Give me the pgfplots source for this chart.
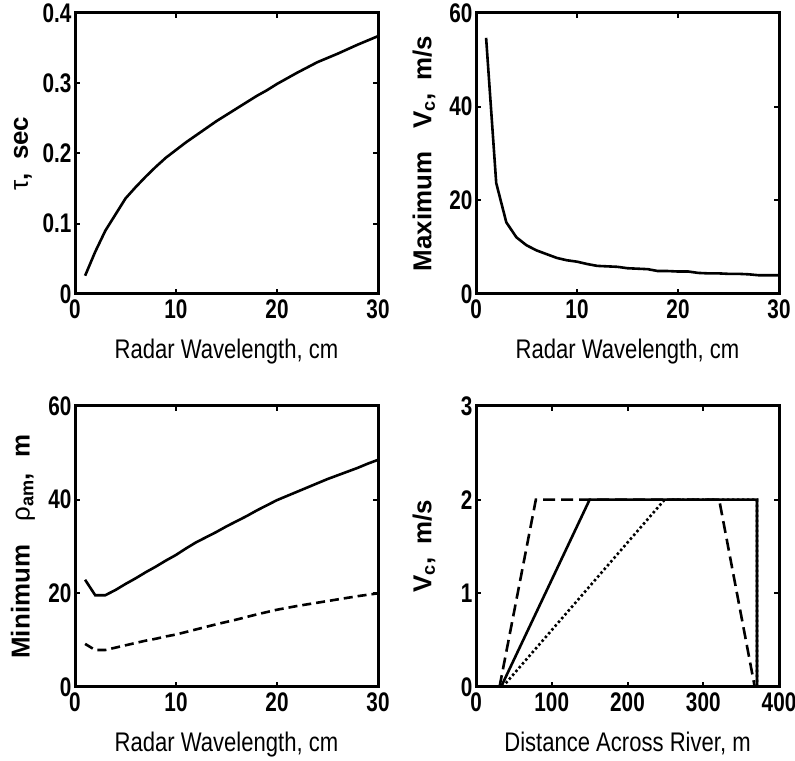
\documentclass[border=0pt]{standalone}
\usepackage{pgfplots}
\pgfplotsset{compat=1.18}
\usepackage{fontspec}
\setmainfont[FakeStretch=0.77]{Liberation Sans}
\newfontfamily\xlabfont[FakeStretch=0.82]{Liberation Sans}
\newfontfamily\ylabfont{Liberation Sans}

\pgfplotsset{
  panel/.style={
    scale only axis, width=303bp, height=281bp, anchor=south west,
    axis line style={line width=3bp},
    tick style={line width=2bp, black}, major tick length=5bp,
    tick align=inside,
    ticklabel style={font=\fontsize{27}{29}\selectfont\bfseries},
    xticklabel style={yshift=-2bp},
    /pgf/number format/assume math mode=true,
    every axis x label/.style={at={(axis description cs:0.5,-0.231)}, anchor=base,
      font=\fontsize{27}{29}\xlabfont},
    every axis y label/.style={at={(axis description cs:-0.172,0.5)}, rotate=90, anchor=center,
      font=\fontsize{26}{28}\ylabfont\bfseries},
  },
  curve/.style={black, line width=2.6bp, mark=none},
}

\begin{document}
\begin{tikzpicture}[x=1bp,y=1bp]
\useasboundingbox (0,0) rectangle (795,761);

% top left
\begin{axis}[panel, at={(75bp,467bp)},
  xmin=0, xmax=30, ymin=0, ymax=0.4,
  xtick={0,10,20,30},
  ytick={0,0.1,0.2,0.3,0.4}, yticklabels={0,0.1,0.2,0.3,0.4},
  xlabel={Radar Wavelength, cm},
  ylabel={{\mdseries τ},\hspace{0.5em}sec}]
\addplot[curve] coordinates {(1,0.026)(2,0.060)(3,0.090)(4,0.113)(5,0.136)(6,0.152)(7,0.167)(8,0.181)
  (9,0.194)(10,0.205)(11,0.216)(12,0.226)(13,0.236)(14,0.246)(15,0.255)(16,0.264)(17,0.273)
  (18,0.282)(19,0.290)(20,0.299)(22,0.315)(24,0.330)(26,0.342)(28,0.355)(30,0.367)};
\end{axis}

% top right
\begin{axis}[panel, at={(476bp,467bp)},
  xmin=0, xmax=30, ymin=0, ymax=60,
  xtick={0,10,20,30}, ytick={0,20,40,60},
  xlabel={Radar Wavelength, cm},
  ylabel={Maximum\hspace{0.9em}V\textsubscript{c},\hspace{0.5em}m/s}]
\addplot[curve] coordinates {(1,54.7)(2,23.7)(3,15.3)(4,12.1)(5,10.4)(6,9.3)(7,8.5)(8,7.7)(9,7.2)
  (10,6.9)(11,6.4)(12,6.0)(13,5.9)(14,5.8)(15,5.5)(16,5.4)(17,5.3)(18,4.9)(19,4.9)(20,4.8)
  (21,4.8)(22,4.5)(23,4.4)(24,4.4)(25,4.3)(26,4.3)(27,4.2)(28,4.0)(29,4.0)(30,4.0)};
\end{axis}

% bottom left
\begin{axis}[panel, at={(75bp,74bp)},
  xmin=0, xmax=30, ymin=0, ymax=60,
  xtick={0,10,20,30}, ytick={0,20,40,60},
  xlabel={Radar Wavelength, cm},
  ylabel={Minimum\hspace{0.9em}{\mdseries ρ}\textsubscript{am},\hspace{0.6em}m}]
\addplot[curve] coordinates {(1,22.9)(2,19.6)(3,19.6)(4,20.7)(5,22.0)(6,23.2)(7,24.5)(8,25.7)(9,27.0)
  (10,28.2)(11,29.6)(12,30.9)(13,32.0)(14,33.1)(15,34.3)(16,35.4)(17,36.5)(18,37.7)(19,38.8)
  (20,39.9)(21,40.8)(22,41.7)(23,42.6)(24,43.5)(25,44.4)(26,45.2)(27,46.0)(28,46.8)(29,47.7)(30,48.5)};
\addplot[curve, dash pattern=on 9bp off 5bp] coordinates {(1,9.2)(2,7.9)(3,7.9)(4,8.4)(5,8.9)(6,9.4)
  (7,9.9)(8,10.3)(9,10.8)(10,11.2)(12,12.3)(14,13.4)(16,14.4)(18,15.5)(20,16.5)(22,17.3)
  (24,18.0)(26,18.7)(28,19.4)(30,20.0)};
\end{axis}

% bottom right
\begin{axis}[panel, at={(476bp,74bp)},
  xmin=0, xmax=400, ymin=0, ymax=3,
  xtick={0,100,200,300,400}, ytick={0,1,2,3},
  xlabel={Distance Across River, m},
  ylabel={V\textsubscript{c},\hspace{0.5em}m/s}]
\addplot[curve, dash pattern=on 12bp off 6bp] coordinates {(31,0)(79,2)(321,2)(368,0)};
\addplot[curve, dash pattern=on 2.5bp off 2.5bp] coordinates {(35,0)(249,2)(371,2)(371,0)};
\addplot[curve] coordinates {(33,0)(150,2)(371,2)(371,0)};
\end{axis}
\end{tikzpicture}
\end{document}
